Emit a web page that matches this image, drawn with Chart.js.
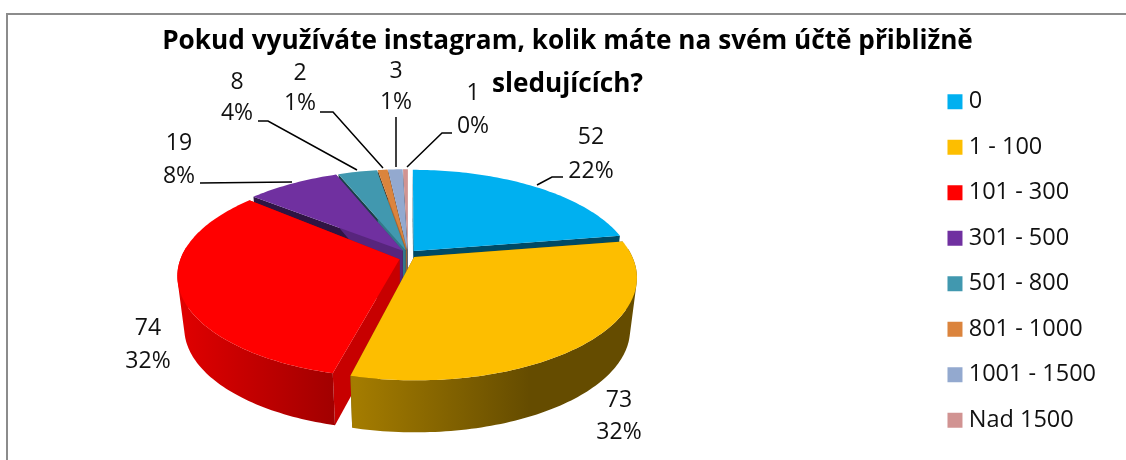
<!DOCTYPE html>
<html><head><meta charset="utf-8">
<style>html,body{margin:0;padding:0;background:#fff;overflow:hidden}canvas{display:block}</style>
<script src="https://cdn.jsdelivr.net/npm/chart.js@4/dist/chart.umd.min.js"></script>
</head><body><canvas id="c" width="1126" height="460"></canvas>
<script>
const categories=['0','1 - 100','101 - 300','301 - 500','501 - 800','801 - 1000','1001 - 1500','Nad 1500'];
const values=[52,73,74,19,8,2,3,1];
const percentLabels=['22%','32%','32%','8%','4%','1%','1%','0%'];
const colors=['#00B0F0','#FDBE00','#FF0000','#7030A0','#4198AF','#DB843D','#93A9CF','#D19392'];
const titleLines=['Pokud využíváte instagram, kolik máte na svém účtě přibližně','sledujících?'];

/* label layout: text centre x, y of the two lines, leader polyline */
const labelLayout=[
 {x:591,y1:137,y2:171,line:[[537,185],[552,177],[563,177]]},
 {x:619,y1:400,y2:432,line:[]},
 {x:148,y1:328,y2:361,line:[]},
 {x:179,y1:143,y2:176,line:[[292,182],[200,183]]},
 {x:237,y1:82,y2:113,line:[[357,170],[268,121],[258,121]]},
 {x:300,y1:73,y2:103,line:[[383,168],[333,112],[320,112]]},
 {x:396,y1:71,y2:102,line:[[396,167],[396,117]]},
 {x:473,y1:93,y2:126,line:[[407,167],[442,133],[452,133]]}
];
const FONT='"Open Sans"';
const view={X0:408,Y0:254,C:217,Ry:98,k:0.195,depth:52,bottomScale:0.97};
const apexDrop=[0,0,4,0,0,0,0,0];

function proj(u,v,bottom){
  const s=1/(1-view.k*v);
  let dx=view.C*u*s, y=view.Y0+view.Ry*v*s;
  if(bottom){dx*=view.bottomScale;y+=view.depth;}
  return [view.X0+dx,y];
}
function shade(hex,f){
  const n=parseInt(hex.slice(1),16);
  return `rgb(${Math.round((n>>16&255)*f)},${Math.round((n>>8&255)*f)},${Math.round((n&255)*f)})`;
}
function poly(ctx,pts,fill){
  ctx.beginPath();pts.forEach((p,i)=>i?ctx.lineTo(p[0],p[1]):ctx.moveTo(p[0],p[1]));ctx.closePath();
  ctx.fillStyle=fill;ctx.fill();
}
function area(q){
  let a=0;q.forEach((p,i)=>{const r=q[(i+1)%q.length];a+=p[0]*r[1]-r[0]*p[1];});return a;
}
const tilted3D={
  id:'tilted3D',
  beforeDraw(chart){
    const c=chart.ctx;c.save();c.fillStyle='#fff';c.fillRect(0,0,1126,460);
    c.strokeStyle='#8c8c8c';c.lineWidth=2;c.beginPath();c.moveTo(7,460);c.lineTo(7,14);c.lineTo(1126,14);c.stroke();c.restore();
  },
  beforeDatasetDraw(chart,args){
    const ctx=chart.ctx,meta=args.meta;
    const slices=meta.data.map((arc,i)=>{
      const p=arc.getProps(['startAngle','endAngle','outerRadius'],true);
      const mid=(p.startAngle+p.endAngle)/2,off=(arc.options.offset||0)/p.outerRadius;
      const u0=Math.cos(mid)*off,v0=Math.sin(mid)*off;
      const n=Math.max(3,Math.ceil((p.endAngle-p.startAngle)/0.02));
      const top=[],bot=[],front=[];
      for(let j=0;j<=n;j++){
        const a=p.startAngle+(p.endAngle-p.startAngle)*j/n;
        const u=u0+Math.cos(a),v=v0+Math.sin(a);
        top.push(proj(u,v,false));bot.push(proj(u,v,true));front.push(Math.sin(a)>-0.1);
      }
      const apexT=proj(u0,v0,false);apexT[1]+=apexDrop[i];
      return {i,color:colors[i],start:p.startAngle,end:p.endAngle,apexT,apexB:proj(u0,v0,true),top,bot,front,depth:v0};
    }).sort((a,b)=>a.depth-b.depth);
    ctx.save();
    for(const s of slices){
      const fs=Math.sin(s.start)>0.5?0.78:0.42, fe=-Math.sin(s.end)>0.5?0.78:0.42;
      poly(ctx,[s.apexT,s.top[0],s.bot[0],s.apexB],shade(s.color,fs));
      poly(ctx,[s.apexT,s.top[s.top.length-1],s.bot[s.bot.length-1],s.apexB],shade(s.color,fe));
      const g=ctx.createLinearGradient(180,0,640,0);
      [[0,.88],[.337,.63],[.38,.65],[.76,.40],[1,.40]].forEach(([t,f])=>g.addColorStop(t,shade(s.color,f)));
      ctx.beginPath();
      for(let j=0;j<s.top.length-1;j++){
        if(!s.front[j]||!s.front[j+1])continue;
        let q=[s.top[j],s.top[j+1],s.bot[j+1],s.bot[j]];
        if(area(q)<0)q=q.reverse();
        ctx.moveTo(q[0][0],q[0][1]);ctx.lineTo(q[1][0],q[1][1]);ctx.lineTo(q[2][0],q[2][1]);ctx.lineTo(q[3][0],q[3][1]);ctx.closePath();
      }
      ctx.fillStyle=g;ctx.fill('nonzero');
    }
    for(const s of slices){poly(ctx,[s.apexT].concat(s.top),s.color);}
    ctx.restore();
    return false;
  },
  afterDatasetsDraw(chart){
    const ctx=chart.ctx;ctx.save();
    ctx.strokeStyle='#000';ctx.lineWidth=1.5;ctx.fillStyle='#111';
    ctx.font='23px '+FONT;ctx.textAlign='center';ctx.textBaseline='middle';
    labelLayout.forEach((l,i)=>{
      if(l.line.length){ctx.beginPath();l.line.forEach((p,j)=>j?ctx.lineTo(p[0],p[1]):ctx.moveTo(p[0],p[1]));ctx.stroke();}
      ctx.fillText(String(values[i]),l.x,l.y1);
      ctx.fillText(percentLabels[i],l.x,l.y2);
    });
    ctx.restore();
  }
};
new Chart(document.getElementById('c'),{
  type:'pie',
  data:{labels:categories,datasets:[{data:values,backgroundColor:colors,borderWidth:0,offset:7}]},
  options:{
    responsive:false,animation:false,
    layout:{padding:{top:6,right:20,bottom:6,left:29}},
    plugins:{
      tooltip:{enabled:false},
      title:{display:true,text:titleLines,color:'#000',font:{family:FONT,size:26.2,weight:'bold',lineHeight:1.64},padding:{top:14,bottom:0}},
      legend:{position:'right',align:'end',labels:{usePointStyle:true,pointStyle:'rect',boxWidth:4,boxHeight:15,padding:22,color:'#111',font:{family:FONT,size:23.5}}}
    }
  },
  plugins:[tilted3D]
});
</script></body></html>
